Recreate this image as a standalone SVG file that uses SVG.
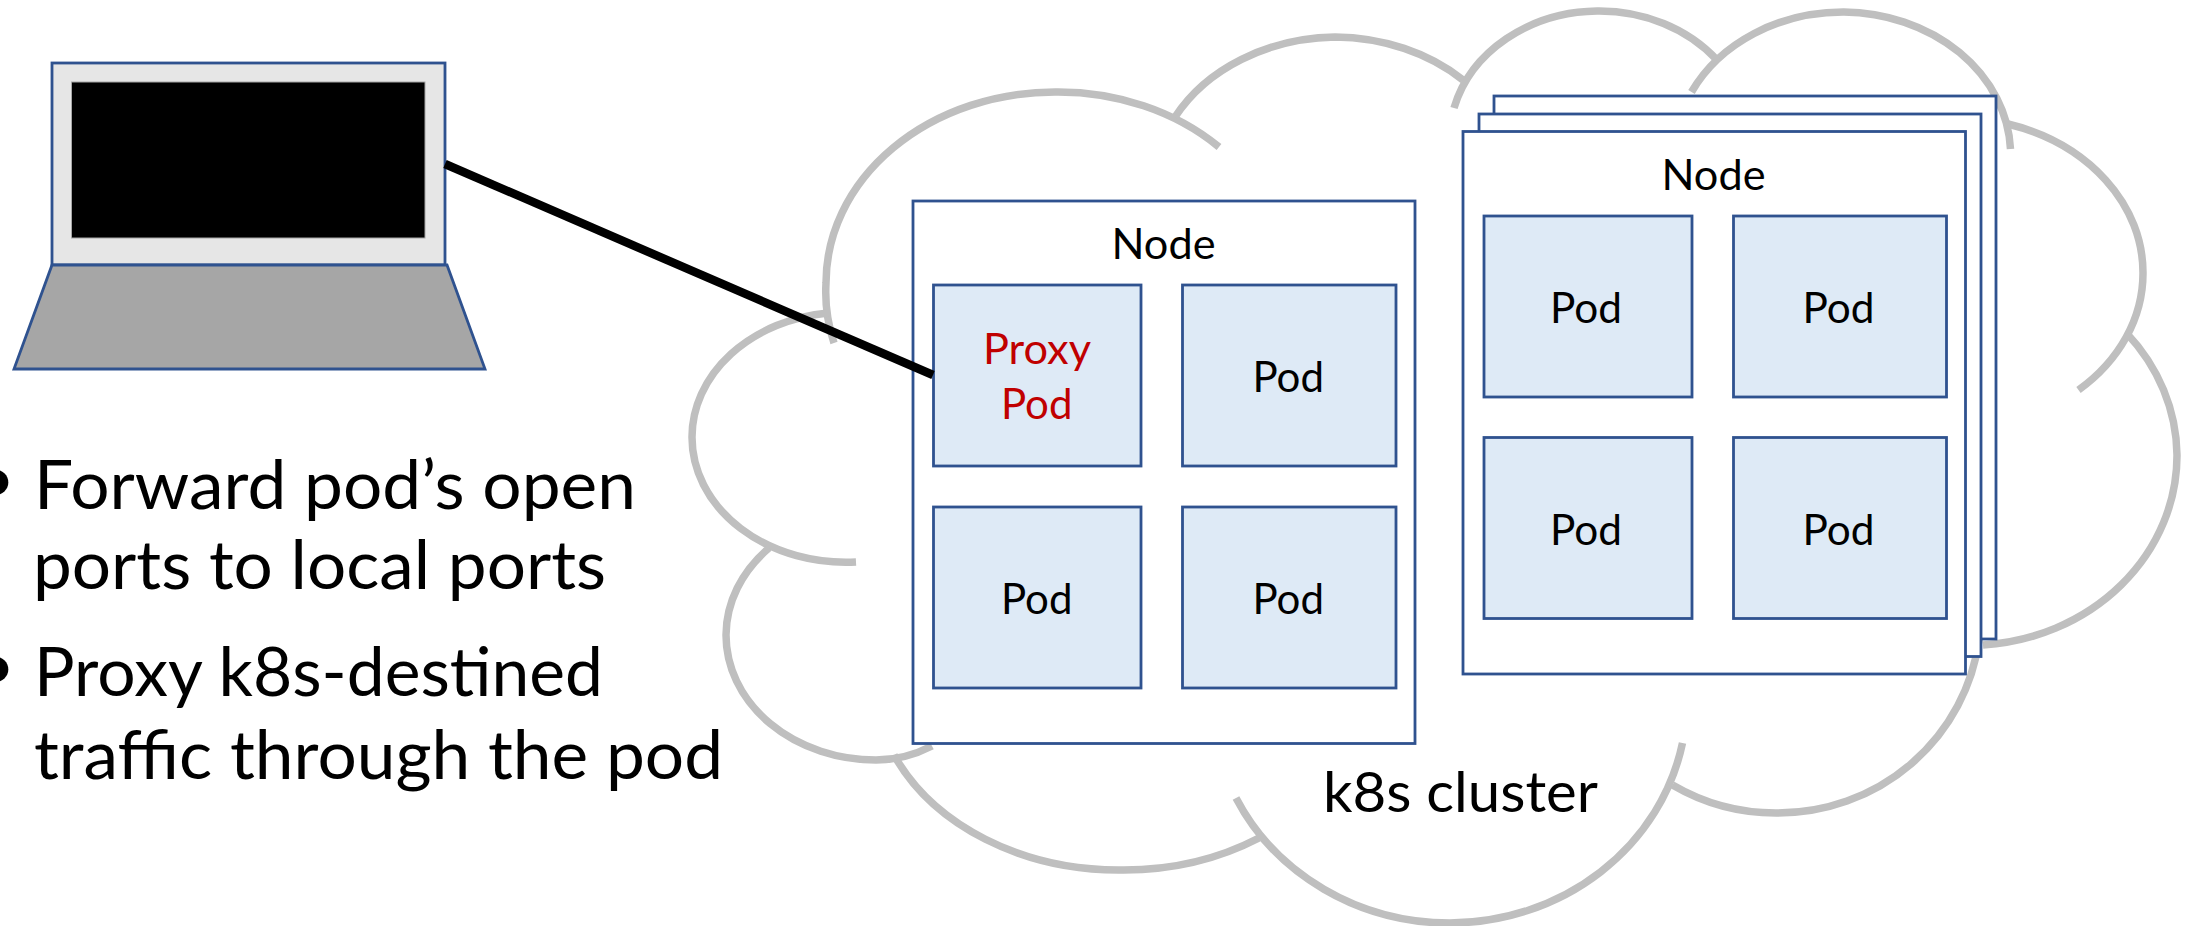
<svg xmlns="http://www.w3.org/2000/svg" width="2191" height="926" viewBox="0 0 2191 926">
<style>
text{font-family:Lato,"Open Sans",sans-serif;fill:#000}
.c{fill:none;stroke:#bfbfbf;stroke-width:7.5}
.n{fill:#fff;stroke:#2f528f;stroke-width:2.8}
.p{fill:#deeaf6;stroke:#2f528f;stroke-width:2.8}
.t{font-size:42px}
.b{font-size:68px}
.r{fill:#c00000}
</style>
<rect width="2191" height="926" fill="#fff"/>
<g id="cloud">
<path class="c" d="M834 343A229 191 0 0 1 826 283A229 191 0 0 1 1055 92A229 191 0 0 1 1219 147"/>
<path class="c" d="M828 313A154 125 0 0 0 692 437A154 125 0 0 0 856 562"/>
<path class="c" d="M769 548A150 125 0 0 0 726 635A150 125 0 0 0 876 760Q905 760 932 746"/>
<path class="c" d="M894 755A245 192 0 0 0 1121 870A245 192 0 0 0 1259 838"/>
<path class="c" d="M1236 798A238 223 0 0 0 1450 923A238 223 0 0 0 1682.500 743"/>
<path class="c" d="M1672.500 785A203 200 0 0 0 1778 813A203 200 0 0 0 1979 640"/>
<path class="c" d="M2126.500 333A208 190 0 0 1 2177 455A208 190 0 0 1 1983 645"/>
<path class="c" d="M2008 124A188 155 0 0 1 2143 273A188 155 0 0 1 2078.500 390"/>
<path class="c" d="M1691.500 92A169 143 0 0 1 1844 12A169 143 0 0 1 2010.500 149"/>
<path class="c" d="M1454 108A150 129 0 0 1 1597 11A150 129 0 0 1 1717 60"/>
<path class="c" d="M1175 117A185 150 0 0 1 1335 37A185 150 0 0 1 1463 80"/>
</g>
<g id="laptop">
<rect x="52" y="63" width="393" height="202" fill="#e6e6e6" stroke="#2f528f" stroke-width="2.8"/>
<rect x="71.5" y="82" width="353.5" height="156" fill="#000" stroke="#a6a6a6" stroke-width="1"/>
<path d="M52 265H447L485 369H14Z" fill="#a6a6a6" stroke="#2f528f" stroke-width="2.8"/>
</g>
<g id="node-1">
<rect class="n" x="913" y="201" width="502" height="542.5"/>
<text class="t" x="1111.500" y="259" textLength="104" lengthAdjust="spacingAndGlyphs">Node</text>
</g>
<g id="pod-proxy">
<rect class="p" x="933.5" y="285" width="207.5" height="181"/>
<text class="t r" x="983" y="364" textLength="108" lengthAdjust="spacingAndGlyphs">Proxy</text>
<text class="t r" x="1001" y="419" textLength="71.500" lengthAdjust="spacingAndGlyphs">Pod</text>
</g>
<g id="pod-1-2">
<rect class="p" x="1182.5" y="285" width="213.5" height="181"/>
<text class="t" x="1252.500" y="392" textLength="71.500" lengthAdjust="spacingAndGlyphs">Pod</text>
</g>
<g id="pod-1-3">
<rect class="p" x="933.500" y="507" width="207.5" height="181"/>
<text class="t" x="1001" y="614" textLength="71.500" lengthAdjust="spacingAndGlyphs">Pod</text>
</g>
<g id="pod-1-4">
<rect class="p" x="1182.5" y="507" width="213.5" height="181"/>
<text class="t" x="1252.500" y="614" textLength="71.500" lengthAdjust="spacingAndGlyphs">Pod</text>
</g>
<g id="node-stack-back"><rect class="n" x="1494" y="96" width="502" height="543"/></g>
<g id="node-stack-middle"><rect class="n" x="1479" y="114" width="502" height="542.5"/></g>
<g id="node-2">
<rect class="n" x="1463" y="131.500" width="502.500" height="542.5"/>
<text class="t" x="1661.500" y="190" textLength="104" lengthAdjust="spacingAndGlyphs">Node</text>
</g>
<g id="pod-2-1">
<rect class="p" x="1484" y="216" width="208" height="181"/>
<text class="t" x="1550" y="323" textLength="72" lengthAdjust="spacingAndGlyphs">Pod</text>
</g>
<g id="pod-2-2">
<rect class="p" x="1733.500" y="216" width="213" height="181"/>
<text class="t" x="1802.500" y="323" textLength="72" lengthAdjust="spacingAndGlyphs">Pod</text>
</g>
<g id="pod-2-3">
<rect class="p" x="1484" y="437.500" width="208" height="181"/>
<text class="t" x="1550" y="545" textLength="72" lengthAdjust="spacingAndGlyphs">Pod</text>
</g>
<g id="pod-2-4">
<rect class="p" x="1733.500" y="437.500" width="213" height="181"/>
<text class="t" x="1802.500" y="545" textLength="72" lengthAdjust="spacingAndGlyphs">Pod</text>
</g>
<g id="connectors">
<line x1="445" y1="164" x2="933" y2="375" stroke="#000" stroke-width="8.5"/>
</g>
<g id="labels">
<text x="1323" y="812" font-size="57" textLength="275" lengthAdjust="spacingAndGlyphs">k8s cluster</text>
<text class="b" x="-24" y="503">•</text>
<text class="b" x="34" y="509" textLength="602" lengthAdjust="spacingAndGlyphs">Forward pod’s open</text>
<text class="b" x="33" y="589" textLength="573" lengthAdjust="spacingAndGlyphs">ports to local ports</text>
<text class="b" x="-24" y="690">•</text>
<text class="b" x="34" y="696" textLength="569" lengthAdjust="spacingAndGlyphs">Proxy k8s-destined</text>
<text class="b" x="34" y="779" textLength="689" lengthAdjust="spacingAndGlyphs">traffic through the pod</text>
</g>
</svg>
